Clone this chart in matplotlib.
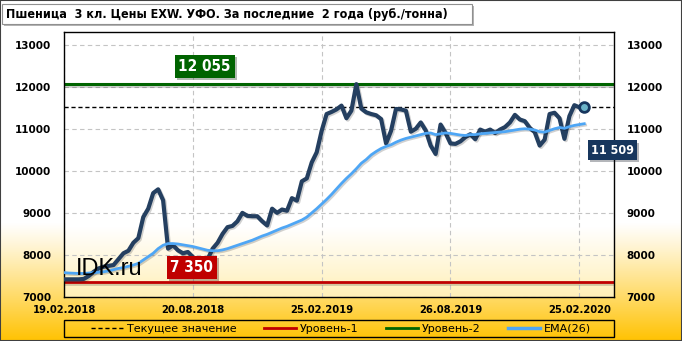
import matplotlib
matplotlib.use('Agg')
import matplotlib.pyplot as plt
import matplotlib.patheffects as pe
from matplotlib.patches import Rectangle
from matplotlib.lines import Line2D
import numpy as np

# weekly prices, rub/t
price = [7420, 7420, 7420, 7420, 7430, 7500, 7600, 7680, 7720, 7740,
         7760, 7900, 8040, 8100, 8290, 8400, 8900, 9100, 9470, 9560,
         9300, 8150, 8230, 8110, 8040, 8070, 7950, 7880, 7850, 7900,
         8150, 8290, 8500, 8660, 8690, 8800, 9000, 8930, 8920, 8920,
         8800, 8700, 9100, 9000, 9080, 9050, 9350, 9290, 9750, 9820,
         10200, 10440, 10950, 11350, 11400, 11460, 11550, 11250, 11430, 12060,
         11480, 11390, 11350, 11320, 11230, 10650, 10950, 11470, 11460, 11430,
         10930, 11000, 11150, 10960, 10600, 10400, 11100, 10900, 10650, 10640,
         10700, 10800, 10870, 10750, 10980, 10930, 10980, 10900, 10980, 11040,
         11150, 11330, 11220, 11180, 11020, 10920, 10600, 10740, 11350, 11380,
         11250, 10760, 11300, 11560, 11510, 11509]

ema = [7580, 7570, 7565, 7560, 7560, 7570, 7580, 7590, 7600, 7620,
       7650, 7680, 7700, 7730, 7760, 7800, 7880, 7960, 8040, 8150,
       8230, 8270, 8270, 8260, 8240, 8220, 8200, 8170, 8140, 8110,
       8100, 8100, 8120, 8150, 8190, 8230, 8270, 8310, 8350, 8400,
       8450, 8490, 8540, 8590, 8640, 8680, 8730, 8780, 8830, 8900,
       9000, 9100, 9210, 9320, 9440, 9570, 9700, 9820, 9930, 10050,
       10180, 10270, 10380, 10460, 10530, 10580, 10620, 10680, 10730, 10770,
       10800, 10830, 10860, 10890, 10900, 10860, 10880, 10900, 10890, 10870,
       10850, 10840, 10860, 10860, 10880, 10890, 10900, 10910, 10920, 10930,
       10950, 10970, 10990, 11000, 10990, 10970, 10930, 10920, 10960, 11000,
       11030, 11010, 11050, 11080, 11100, 11120]

date_labels = ['19.02.2018', '20.08.2018', '25.02.2019', '26.08.2019', '25.02.2020']
date_idx = [0, 26, 52, 78, 104]

level1 = 7350
level2 = 12055
current = 11509

W, H = 682, 341
fig = plt.figure(figsize=(W / 100, H / 100), dpi=100)

# background gradient white -> gold
bg = fig.add_axes([0, 0, 1, 1], zorder=-10)
bg.axis('off')
t = np.clip((np.arange(H) - 222) / (H - 222), 0, 1) ** 1.1
gold = np.array([1.0, 0.76, 0.0])
grad = (1 - t)[:, None] * np.ones(3) + t[:, None] * gold
bg.imshow(grad[:, None, :], aspect='auto', extent=[0, 1, 0, 1])
bg.set_xlim(0, 1)
bg.set_ylim(0, 1)

# title box
bg.add_patch(Rectangle((4 / W, 1 - 26 / H), 470 / W, 20 / H, facecolor='#b4b4b4', edgecolor='none'))
bg.add_patch(Rectangle((2 / W, 1 - 24 / H), 470 / W, 20 / H, facecolor='white', edgecolor='#909090', lw=0.8))
fig.text(6 / W, 1 - 14.5 / H, 'Пшеница  3 кл. Цены EXW. УФО. За последние  2 года (руб./тонна)',
         fontsize=9, fontweight='bold', fontstretch='condensed', va='center', ha='left')

# legend frame and figure border
bg.add_patch(Rectangle((64 / W, 4 / H), 550 / W, 17 / H, fill=False, edgecolor='black', lw=1))
bg.add_patch(Rectangle((0, 0), 1, 1, fill=False, edgecolor='#404040', lw=1.5, transform=bg.transAxes))

ax = fig.add_axes([64 / W, 44 / H, 550 / W, 265 / H])
ax.patch.set_alpha(0)
x = np.arange(len(price))
ax.set_xlim(0, 111)
ax.set_ylim(7000, 13300)

# plot area gradient
ti = np.clip((np.arange(265) - 195) / 70, 0, 1)
inner = (1 - ti)[:, None] * np.ones(3) + ti[:, None] * np.array([1.0, 0.94, 0.72])
ax.imshow(inner[:, None, :], aspect='auto', extent=[0, 111, 7000, 13300], zorder=0)

ax.set_yticks(range(7000, 13001, 1000))
ax.set_xticks(date_idx)
ax.set_xticklabels(date_labels)
ax.grid(color='#c4c4c4', linestyle=(0, (4, 3)), lw=0.8, zorder=1)
ax.tick_params(length=0, labelsize=7.5, labelright=True)
ax.tick_params(axis='y', pad=9)
ax.tick_params(axis='x', pad=6, labelsize=7.2)
for lab in ax.get_xticklabels() + ax.get_yticklabels():
    lab.set_fontweight('bold')
for s in ax.spines.values():
    s.set_color('black')
    s.set_linewidth(1)

shadow = [pe.SimpleLineShadow(offset=(1, -1), alpha=0.18), pe.Normal()]
ax.axhline(level2, color='#006400', lw=2.2, zorder=2, path_effects=shadow)
ax.axhline(level1, color='#c00000', lw=2, zorder=2, path_effects=shadow)
ax.axhline(current, color='black', lw=1, ls=(0, (3, 2)), zorder=2)

ax.plot(x, price, color='#243f60', lw=3, solid_joinstyle='round', zorder=4, path_effects=shadow)
ax.plot(x, ema, color='#4ea6f5', lw=2, zorder=5, path_effects=shadow)
ax.plot(x[-1], current, 'o', ms=7, mfc='#6cb4c8', mec='#17365d', mew=2, zorder=6)

ax.text(2.4, 7523, 'IDK.ru', family='Liberation Sans', fontsize=17, va='baseline', zorder=6)


def level_box(xv, yv, txt, color, size):
    tx = ax.text(xv, yv, txt, color='white', fontsize=size, fontweight='bold', fontstretch='condensed',
                 ha='center', va='center', zorder=7, clip_on=False,
                 bbox=dict(boxstyle='square,pad=0.25', facecolor=color, edgecolor='none'))
    tx.get_bbox_patch().set_path_effects([pe.SimplePatchShadow(offset=(1.5, -1.5), alpha=0.3), pe.Normal()])


level_box(28.4, 12475, '12 055', '#006400', 11)
level_box(25.8, 7700, '7 350', '#c00000', 11)
level_box(110.7, 10492, '11 509', '#17365d', 9)

handles = [Line2D([], [], color='black', lw=1, ls=(0, (3, 2))),
           Line2D([], [], color='#c00000', lw=2),
           Line2D([], [], color='#006400', lw=2),
           Line2D([], [], color='#4ea6f5', lw=2.5)]
labels = ['Текущее значение', 'Уровень-1', 'Уровень-2', 'EMA(26)']
leg = fig.legend(handles, labels, ncol=4, loc='center',
                 bbox_to_anchor=(341 / W, 12.5 / H), fontsize=8,
                 handlelength=2.9, handletextpad=0.4, columnspacing=2.4,
                 borderpad=0, borderaxespad=0, frameon=False)

fig.savefig('out.png', dpi=100)
